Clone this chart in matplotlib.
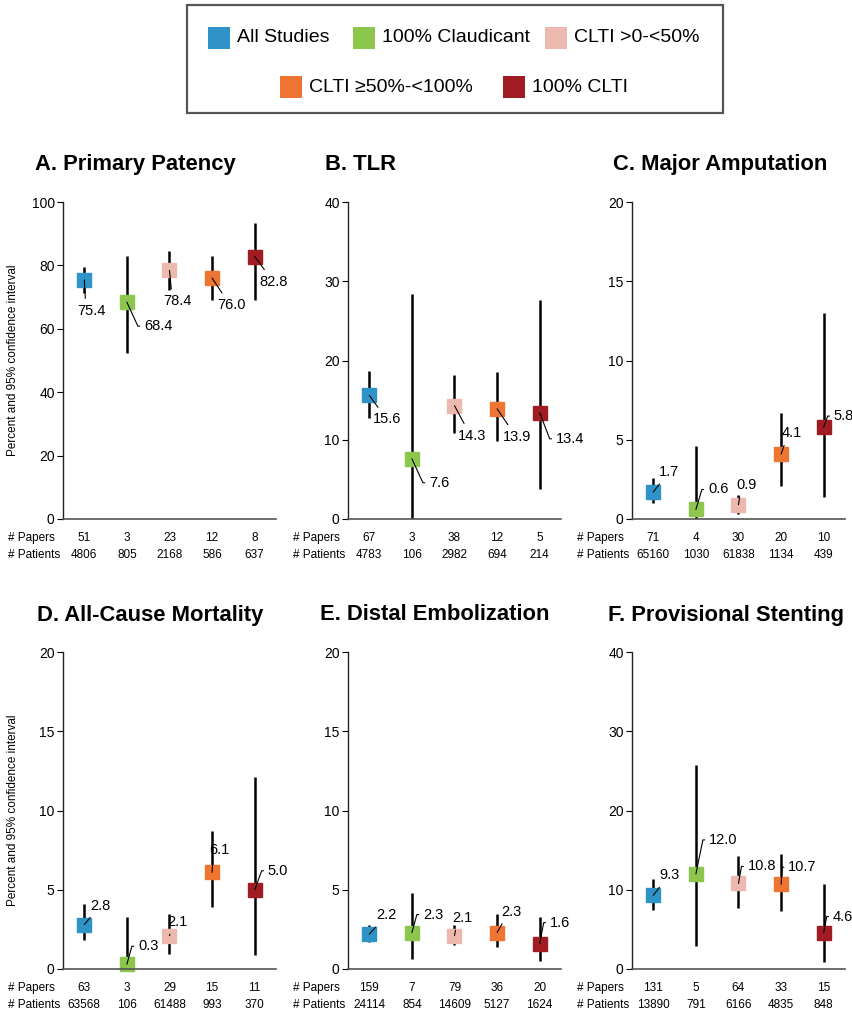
import numpy as np
import matplotlib
matplotlib.use('Agg')
import matplotlib.pyplot as plt
from matplotlib.patches import Rectangle
from matplotlib import transforms

plt.rcParams['font.family'] = ['Liberation Sans', 'DejaVu Sans']

# groups and colours
groups = ['All Studies', '100% Claudicant', 'CLTI >0-<50%', 'CLTI ≥50%-<100%', '100% CLTI']
colors = ['#2E93C6', '#8CC64D', '#EDB9AF', '#EE7431', '#A01C22']

# A. Primary Patency
patency_est = [75.4, 68.4, 78.4, 76.0, 82.8]
patency_lo = [71.3, 52.4, 72.2, 69.0, 69.0]
patency_hi = [79.5, 82.9, 84.5, 82.9, 93.4]
patency_papers = [51, 3, 23, 12, 8]
patency_patients = [4806, 805, 2168, 586, 637]

# B. TLR
tlr_est = [15.6, 7.6, 14.3, 13.9, 13.4]
tlr_lo = [12.8, 0.0, 10.8, 9.8, 3.8]
tlr_hi = [18.7, 28.4, 18.2, 18.5, 27.6]
tlr_papers = [67, 3, 38, 12, 5]
tlr_patients = [4783, 106, 2982, 694, 214]

# C. Major Amputation
amp_est = [1.7, 0.6, 0.9, 4.1, 5.8]
amp_lo = [1.0, 0.0, 0.3, 2.1, 1.4]
amp_hi = [2.6, 4.6, 1.5, 6.7, 13.0]
amp_papers = [71, 4, 30, 20, 10]
amp_patients = [65160, 1030, 61838, 1134, 439]

# D. All-Cause Mortality
mort_est = [2.8, 0.3, 2.1, 6.1, 5.0]
mort_lo = [1.8, 0.0, 0.95, 3.9, 0.9]
mort_hi = [4.1, 3.3, 3.5, 8.7, 12.1]
mort_papers = [63, 3, 29, 15, 11]
mort_patients = [63568, 106, 61488, 993, 370]

# E. Distal Embolization
emb_est = [2.2, 2.3, 2.1, 2.3, 1.6]
emb_lo = [1.7, 0.6, 1.5, 1.4, 0.5]
emb_hi = [2.8, 4.8, 2.8, 3.5, 3.3]
emb_papers = [159, 7, 79, 36, 20]
emb_patients = [24114, 854, 14609, 5127, 1624]

# F. Provisional Stenting
stent_est = [9.3, 12.0, 10.8, 10.7, 4.6]
stent_lo = [7.4, 2.9, 7.7, 7.3, 0.9]
stent_hi = [11.4, 25.8, 14.3, 14.5, 10.7]
stent_papers = [131, 5, 64, 33, 15]
stent_patients = [13890, 791, 6166, 4835, 848]

W, H = 853, 1016
fig = plt.figure(figsize=(W / 100, H / 100), dpi=100)


def fx(px):
    return px / W


def fy(py):
    return 1 - py / H


# label placement: (dx, dy, hook) in pixels from the point
lab_a = [(7, -31, 0), (17, -24, 1), (8, -31, 0), (19, -27, 0), (19, -25, 0)]
lab_b = [(18, -24, 0), (17, -24, 1), (18, -30, 0), (20, -28, 0), (16, -26, 1)]
lab_c = [(16, 20, 0), (12, 20, 1), (8, 20, 0), (11, 21, 0), (10, 11, 1)]
lab_d = [(16, 19, 0), (11, 18, 1), (8, 14, 0), (7, 22, 0), (13, 19, 1)]
lab_e = [(17, 19, 0), (11, 18, 1), (8, 18, 0), (14, 21, 0), (10, 21, 1)]
lab_f = [(16, 20, 0), (13, 34, 1), (9, 17, 1), (7, 17, 1), (9, 16, 1)]

panels = [
    ('A. Primary Patency', patency_est, patency_lo, patency_hi, patency_papers, patency_patients, 100, 20, lab_a, 63, 202, 35),
    ('B. TLR', tlr_est, tlr_lo, tlr_hi, tlr_papers, tlr_patients, 40, 10, lab_b, 348, 202, 325),
    ('C. Major Amputation', amp_est, amp_lo, amp_hi, amp_papers, amp_patients, 20, 5, lab_c, 632, 202, 613),
    ('D. All-Cause Mortality', mort_est, mort_lo, mort_hi, mort_papers, mort_patients, 20, 5, lab_d, 63, 652, 37),
    ('E. Distal Embolization', emb_est, emb_lo, emb_hi, emb_papers, emb_patients, 20, 5, lab_e, 348, 652, 320),
    ('F. Provisional Stenting', stent_est, stent_lo, stent_hi, stent_papers, stent_patients, 40, 10, lab_f, 632, 652, 608),
]

AW, AH = 213, 317
x = np.arange(len(groups)) + 0.5

for k, (title, est, lo, hi, papers, patients, ymax, ystep, labs, left, top, tx) in enumerate(panels):
    ax = fig.add_axes([fx(left), fy(top + AH), AW / W, AH / H])
    est = np.array(est)
    err = [est - np.array(lo), np.array(hi) - est]
    ax.errorbar(x, est, yerr=err, fmt='none', ecolor='black', elinewidth=1.8, capsize=0, zorder=1)
    for i in range(len(groups)):
        ax.plot(x[i], est[i], marker='s', markersize=10, color=colors[i],
                markeredgecolor=colors[i], zorder=2, clip_on=False)
        dx, dy, hook = labs[i]
        if hook:
            ang = np.degrees(np.arctan2(dy, dx - 6))
            ax.annotate(f'{est[i]:.1f}', (x[i], est[i]), xytext=(dx, dy), textcoords='offset pixels',
                        ha='left', va='center', fontsize=10.5, zorder=4, annotation_clip=False,
                        arrowprops=dict(arrowstyle='-', color='black', lw=0.8, shrinkA=1, shrinkB=0,
                                        relpos=(0, 0.5),
                                        connectionstyle=f'angle,angleA=0,angleB={ang},rad=0'))
        else:
            relpos = (0.3, 1) if dy < 0 else (0.2, 0)
            ax.annotate(f'{est[i]:.1f}', (x[i], est[i]), xytext=(dx, dy), textcoords='offset pixels',
                        ha='center', va='center', fontsize=10.5, zorder=4, annotation_clip=False,
                        arrowprops=dict(arrowstyle='-', color='black', lw=0.8, shrinkA=2, shrinkB=0,
                                        relpos=relpos))

    ax.set_xlim(0, 5)
    ax.set_ylim(0, ymax)
    ax.set_yticks(np.arange(0, ymax + 1, ystep))
    ax.set_xticks([])
    ax.tick_params(axis='y', direction='out', length=4, width=0.8, labelsize=10, pad=2)
    ax.spines['top'].set_visible(False)
    ax.spines['right'].set_visible(False)
    ax.spines['left'].set_color('#222222')
    ax.spines['bottom'].set_color('#555555')
    ax.spines['left'].set_linewidth(1.0)
    ax.spines['bottom'].set_linewidth(1.2)

    fig.text(fx(tx), fy(top - 37), title, ha='left', va='center', fontsize=15.8, weight='bold')

    if left < 100:
        fig.text(fx(13), fy(top + AH / 2), 'Percent and 95% confidence interval',
                 rotation=90, ha='center', va='center', fontsize=8.5)

    row1 = top + AH + 19
    row2 = top + AH + 36
    fig.text(fx(left - 55), fy(row1), '# Papers', ha='left', va='center', fontsize=8.5)
    fig.text(fx(left - 55), fy(row2), '# Patients', ha='left', va='center', fontsize=8.5)
    trans = transforms.blended_transform_factory(ax.transData, fig.transFigure)
    for i in range(len(groups)):
        ax.text(x[i], fy(row1), str(papers[i]), transform=trans, ha='center', va='center', fontsize=8.5)
        ax.text(x[i], fy(row2), str(patients[i]), transform=trans, ha='center', va='center', fontsize=8.5)

# legend box
fig.add_artist(Rectangle((fx(187), fy(113)), fx(723) - fx(187), (113 - 5) / H,
                         transform=fig.transFigure, fill=False, edgecolor='#555555', lw=1.6))
leg_pos = [(208, 38), (353, 38), (545, 38), (280, 87), (503, 87)]
for (px, cy), name, c in zip(leg_pos, groups, colors):
    fig.add_artist(Rectangle((fx(px), fy(cy + 11)), 22 / W, 22 / H, transform=fig.transFigure,
                             facecolor=c, edgecolor='none'))
    fig.text(fx(px + 29), fy(cy), name, ha='left', va='center', fontsize=14)

fig.savefig('out.png', dpi=100)
